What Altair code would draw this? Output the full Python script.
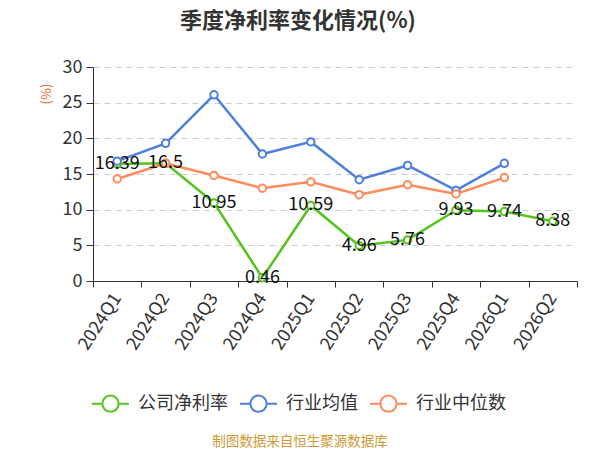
import altair as alt
import pandas as pd

quarters = ["2024Q1", "2024Q2", "2024Q3", "2024Q4", "2025Q1",
            "2025Q2", "2025Q3", "2025Q4", "2026Q1", "2026Q2"]
company = [16.39, 16.5, 10.95, 0.46, 10.59, 4.96, 5.76, 9.93, 9.74, 8.38]
industry_mean = [16.8, 19.3, 26.1, 17.8, 19.5, 14.2, 16.2, 12.7, 16.5, None]
industry_median = [14.3, 16.5, 14.8, 13.0, 13.9, 12.1, 13.5, 12.2, 14.5, None]
y_ticks = [0, 5, 10, 15, 20, 25, 30]

series_names = ["公司净利率", "行业均值", "行业中位数"]
series_colors = ["#52c41a", "#4e7fe0", "#ff8a5b"]

rows = []
for name, vals in zip(series_names, [company, industry_mean, industry_median]):
    for i, (q, v) in enumerate(zip(quarters, vals)):
        if v is not None:
            rows.append({"quarter": q, "value": v, "series": name,
                         "order": series_names.index(name), "label": f"{v:g}"})
df = pd.DataFrame(rows)

FONT = "Noto Sans CJK SC"

x = alt.X("quarter:N", sort=quarters, title=None,
          scale=alt.Scale(paddingInner=0, paddingOuter=0),
          axis=alt.Axis(labelAngle=303, labelAlign="right", labelBaseline="middle",
                        labelFontSize=18, labelColor="#333", labelPadding=8,
                        tickBand="extent", tickSize=6, tickColor="#333",
                        domainColor="#333", grid=False, labelFont=FONT))
y = alt.Y("value:Q", title=None,
          scale=alt.Scale(domain=[y_ticks[0], y_ticks[-1]], nice=False),
          axis=alt.Axis(values=y_ticks, tickCount=len(y_ticks) + 2,
                        labelFontSize=18, labelOverlap=False,
                        labelColor="#333", labelPadding=4, tickSize=7,
                        tickColor="#333", domainColor="#333",
                        gridColor="#cccccc", gridDash=[6, 5], labelFont=FONT))

legend_path = ("M-1,0L-0.44,0M0.44,0L1,0M-0.44,0A0.44,0.44 0 1 1 0.44,0"
               "A0.44,0.44 0 1 1 -0.44,0")

color = alt.Color("series:N", sort=series_names,
                  scale=alt.Scale(domain=series_names, range=series_colors),
                  legend=alt.Legend(orient="none", direction="horizontal",
                                    legendX=-2, legendY=317, title=None,
                                    symbolType=legend_path, symbolSize=1369,
                                    symbolStrokeWidth=2, symbolFillColor="white",
                                    labelFontSize=18, labelColor="#333",
                                    labelFont=FONT, labelOffset=8,
                                    columnPadding=8, labelLimit=300))

lines = alt.Chart(df).mark_line(
    strokeWidth=2.5,
    point=alt.OverlayMarkDef(filled=False, fill="white", fillOpacity=1,
                             size=55, strokeWidth=2, opacity=1)
).encode(x=x, y=y, color=color, order="order:Q")

labels = alt.Chart(df[df["series"] == "公司净利率"]).mark_text(
    fontSize=18, font=FONT, color="#111", baseline="middle", align="center"
).encode(x=x, y=y, text="label:N")

title = alt.Chart(df.head(1)).mark_text(
    text="季度净利率变化情况(%)", fontSize=22, fontWeight="bold", font=FONT,
    color="#333", baseline="middle", align="center"
).encode(x=alt.value(205), y=alt.value(-46))

unit = alt.Chart(df.head(1)).mark_text(
    text="(%)", angle=270, fontSize=13, font=FONT, color="#e8622c",
    baseline="middle", align="center"
).encode(x=alt.value(-46), y=alt.value(27))

footer = alt.Chart(df.head(1)).mark_text(
    text="制图数据来自恒生聚源数据库", fontSize=13.5, font=FONT, color="#cc9933",
    baseline="middle", align="center"
).encode(x=alt.value(207), y=alt.value(375))

chart = alt.layer(lines, labels, title, unit, footer).properties(
    width=484, height=214,
    autosize=alt.AutoSizeParams(type="none"),
    padding={"left": 85, "top": 59, "right": 15, "bottom": 169},
).configure_view(stroke=None)

chart.save("out.html", embed_options={"renderer": "svg", "actions": False})
